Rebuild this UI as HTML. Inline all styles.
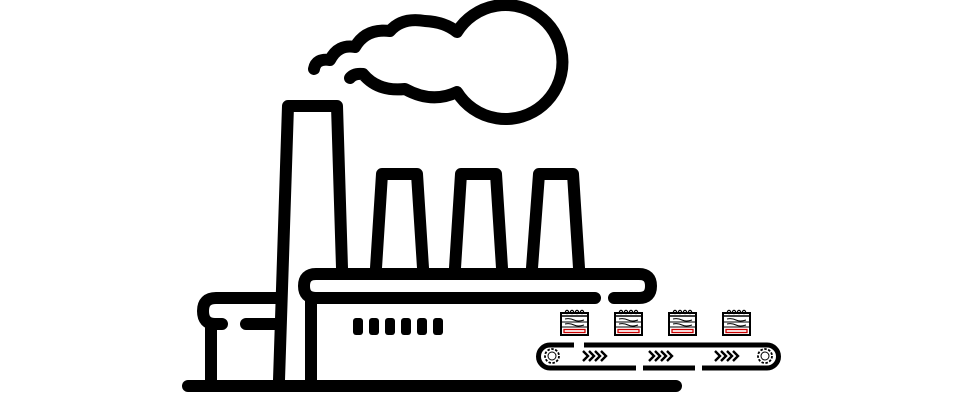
<!DOCTYPE html>
<html><head><meta charset="utf-8"><style>html,body{margin:0;padding:0;background:#fff}svg{display:block}</style></head>
<body>
<svg width="960" height="403" viewBox="0 0 960 403" xmlns="http://www.w3.org/2000/svg">
<defs>
<g id="doc">
  <rect x="1" y="3" width="27" height="22" fill="#fff" stroke="#000" stroke-width="2"/>
  <circle cx="7" cy="2" r="1.6" fill="none" stroke="#000" stroke-width="1.2"/>
  <circle cx="12" cy="2" r="1.6" fill="none" stroke="#000" stroke-width="1.2"/>
  <circle cx="17" cy="2" r="1.6" fill="none" stroke="#000" stroke-width="1.2"/>
  <circle cx="22" cy="2" r="1.6" fill="none" stroke="#000" stroke-width="1.2"/>
  <line x1="1" y1="6" x2="28" y2="6" stroke="#000" stroke-width="1.5"/>
  <line x1="1" y1="12" x2="28" y2="12" stroke="#000" stroke-width="1"/>
  <line x1="1" y1="17" x2="28" y2="17" stroke="#000" stroke-width="1"/>
  <path d="M5,9 Q10,8 14,10 T24,10" fill="none" stroke="#000" stroke-width="1"/>
  <path d="M5,14 Q10,13 14,15 T24,15" fill="none" stroke="#000" stroke-width="1"/>
  <rect x="4" y="19.5" width="21" height="3" fill="#fff" stroke="#c00" stroke-width="1.3"/>
</g>
<g id="chev" fill="none" stroke="#000" stroke-width="2.4">
  <path d="M0,-5 L5,0 L0,5 M6,-5 L11,0 L6,5 M12,-5 L17,0 L12,5 M18,-5 L23,0 L18,5"/>
</g>
<g id="gear">
  <circle r="7" fill="none" stroke="#000" stroke-width="1.8" stroke-dasharray="2.5 1.5"/>
  <circle r="4" fill="none" stroke="#000" stroke-width="1"/>
</g>
</defs>
<g fill="none" stroke="#000" stroke-width="12" stroke-linecap="round" stroke-linejoin="round">
  <line x1="188" y1="386" x2="676" y2="386"/>
  <path d="M279,380 L288,106 L337,106 L342,268"/>
  <path d="M376,268 L382,174 L417,174 L423,268"/>
  <path d="M455,268 L461,174 L496,174 L502,268"/>
  <path d="M532,268 L539,174 L573,174 L579,268"/>
  <path d="M595,298 L316,298 Q304,298 304,286 Q304,274 316,274 L639,274 Q651,274 651,286 Q651,298 639,298 L614,298"/>
  <line x1="311" y1="300" x2="311" y2="380"/>
  <path d="M222,324 L215,324 Q203,324 203,311 Q203,298 216,298 L279,298"/>
  <line x1="246" y1="324" x2="276" y2="324"/>
  <line x1="211" y1="328" x2="211" y2="380"/>
  <path d="M314,69 Q316,58 330,60 Q338,44 355,47 Q366,28 390,31 Q402,17 425,21 Q445,22 457,32 A57,57 0 1 1 457,92 Q432,104 405,89 Q378,92 363,74 Q354,73 350,78"/>
</g>
<g fill="#000">
  <rect x="353" y="318" width="10" height="17" rx="3"/>
  <rect x="369" y="318" width="10" height="17" rx="3"/>
  <rect x="385" y="318" width="10" height="17" rx="3"/>
  <rect x="401" y="318" width="10" height="17" rx="3"/>
  <rect x="417" y="318" width="10" height="17" rx="3"/>
  <rect x="433" y="318" width="10" height="17" rx="3"/>
</g>
<g fill="none" stroke="#000" stroke-width="5" stroke-linecap="butt">
  <path d="M574,345 L550,345 A11.5,11.5 0 0 0 550,368 L636,368"/>
  <path d="M584,345 L767,345 A11.5,11.5 0 0 1 767,368 L702,368"/>
  <line x1="643" y1="368" x2="695" y2="368"/>
</g>
<use href="#gear" x="552" y="356"/>
<use href="#gear" x="765" y="356"/>
<use href="#chev" x="583" y="356"/>
<use href="#chev" x="649" y="356"/>
<use href="#chev" x="715" y="356"/>
<use href="#doc" x="560" y="310"/>
<use href="#doc" x="614" y="310"/>
<use href="#doc" x="668" y="310"/>
<use href="#doc" x="722" y="310"/>
</svg>
</body></html>
